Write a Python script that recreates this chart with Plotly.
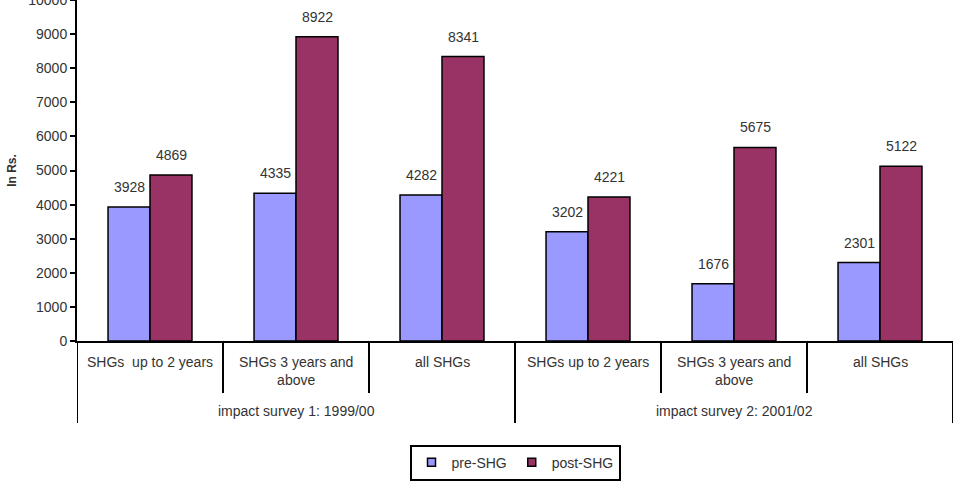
import plotly.graph_objects as go

groups = ["impact survey 1: 1999/00", "impact survey 2: 2001/02"]
categories = ["SHGs  up to 2 years", "SHGs 3 years and<br>above", "all SHGs",
              "SHGs up to 2 years", "SHGs 3 years and<br>above", "all SHGs"]
category_group = [0, 0, 0, 1, 1, 1]
pre_shg = [3928, 4335, 4282, 3202, 1676, 2301]
post_shg = [4869, 8922, 8341, 4221, 5675, 5122]
y_ticks = list(range(0, 10001, 1000))

font_family = "Liberation Sans, Arial, sans-serif"
text_color = "#333333"
pre_color = "#9999FF"
post_color = "#993366"

# unique category keys for the axis
keys = [f"c{i}" for i in range(len(categories))]

fig = go.Figure()
fig.add_trace(go.Bar(
    x=keys, y=pre_shg, name="pre-SHG", showlegend=False,
    marker=dict(color=pre_color, line=dict(color="black", width=1.5)),
))
fig.add_trace(go.Bar(
    x=keys, y=post_shg, name="post-SHG", showlegend=False,
    marker=dict(color=post_color, line=dict(color="black", width=1.5)),
))
# legend entries with small square swatches
for name, col in [("pre-SHG", pre_color), ("post-SHG", post_color)]:
    fig.add_trace(go.Scatter(
        x=[None], y=[None], mode="markers", name=name,
        marker=dict(symbol="square", size=8, color=col, line=dict(color="black", width=1.5)),
    ))

annotations = []
# value labels
for k, v in zip(keys, pre_shg):
    annotations.append(dict(x=k, y=v, xref="x", yref="y", text=str(v), showarrow=False,
                            yanchor="bottom", xanchor="center", xshift=-21, yshift=10,
                            font=dict(size=14, color=text_color)))
for k, v in zip(keys, post_shg):
    annotations.append(dict(x=k, y=v, xref="x", yref="y", text=str(v), showarrow=False,
                            yanchor="bottom", xanchor="center", xshift=21, yshift=10,
                            font=dict(size=14, color=text_color)))
# category labels
for k, c in zip(keys, categories):
    annotations.append(dict(x=k, y=-0.033, xref="x", yref="paper", text=c, showarrow=False,
                            yanchor="top", xanchor="center",
                            font=dict(size=14, color=text_color)))
# group labels
for g_idx, g in enumerate(groups):
    members = [i for i, gi in enumerate(category_group) if gi == g_idx]
    center = (members[0] + members[-1]) / 2
    annotations.append(dict(x=center, y=-0.205, xref="x", yref="paper", text=g, showarrow=False,
                            yanchor="middle", xanchor="center",
                            font=dict(size=14, color=text_color)))

shapes = []
n = len(categories)
for b in range(n + 1):
    pos = b - 0.5
    is_group_edge = b == 0 or b == n or category_group[b - 1] != category_group[b]
    shapes.append(dict(type="line", xref="x", yref="paper", x0=pos, x1=pos,
                       y0=0, y1=-0.2405 if is_group_edge else -0.1525,
                       line=dict(color="black", width=2)))

fig.update_layout(
    width=957, height=492,
    margin=dict(l=77, r=4, t=0, b=151),
    paper_bgcolor="white", plot_bgcolor="white",
    barmode="group", bargap=0.425, bargroupgap=0,
    font=dict(family=font_family, size=14, color=text_color),
    showlegend=True,
    legend=dict(
        orientation="h", x=0.5, xanchor="center", y=-0.357, yanchor="middle",
        bordercolor="black", borderwidth=2, bgcolor="white",
        font=dict(size=14, color=text_color),
        itemwidth=30, tracegroupgap=0,
    ),
    annotations=annotations,
    shapes=shapes,
    xaxis=dict(
        type="category", range=[-0.5, n - 0.5], automargin=False,
        showline=True, linecolor="black", linewidth=2,
        showticklabels=False, ticks="", showgrid=False, fixedrange=True,
    ),
    yaxis=dict(
        range=[0, 10000], tickvals=y_ticks, ticktext=[str(t) for t in y_ticks],
        automargin=False,
        showline=True, linecolor="black", linewidth=2,
        ticks="outside", ticklen=5, tickcolor="black", tickwidth=2,
        ticklabeloverflow="allow",
        showgrid=False, zeroline=False,
        tickfont=dict(size=14, color=text_color),
        title=dict(text="<b>In Rs.</b>", font=dict(size=12, color=text_color), standoff=9),
    ),
)

fig.write_html("out.html")
